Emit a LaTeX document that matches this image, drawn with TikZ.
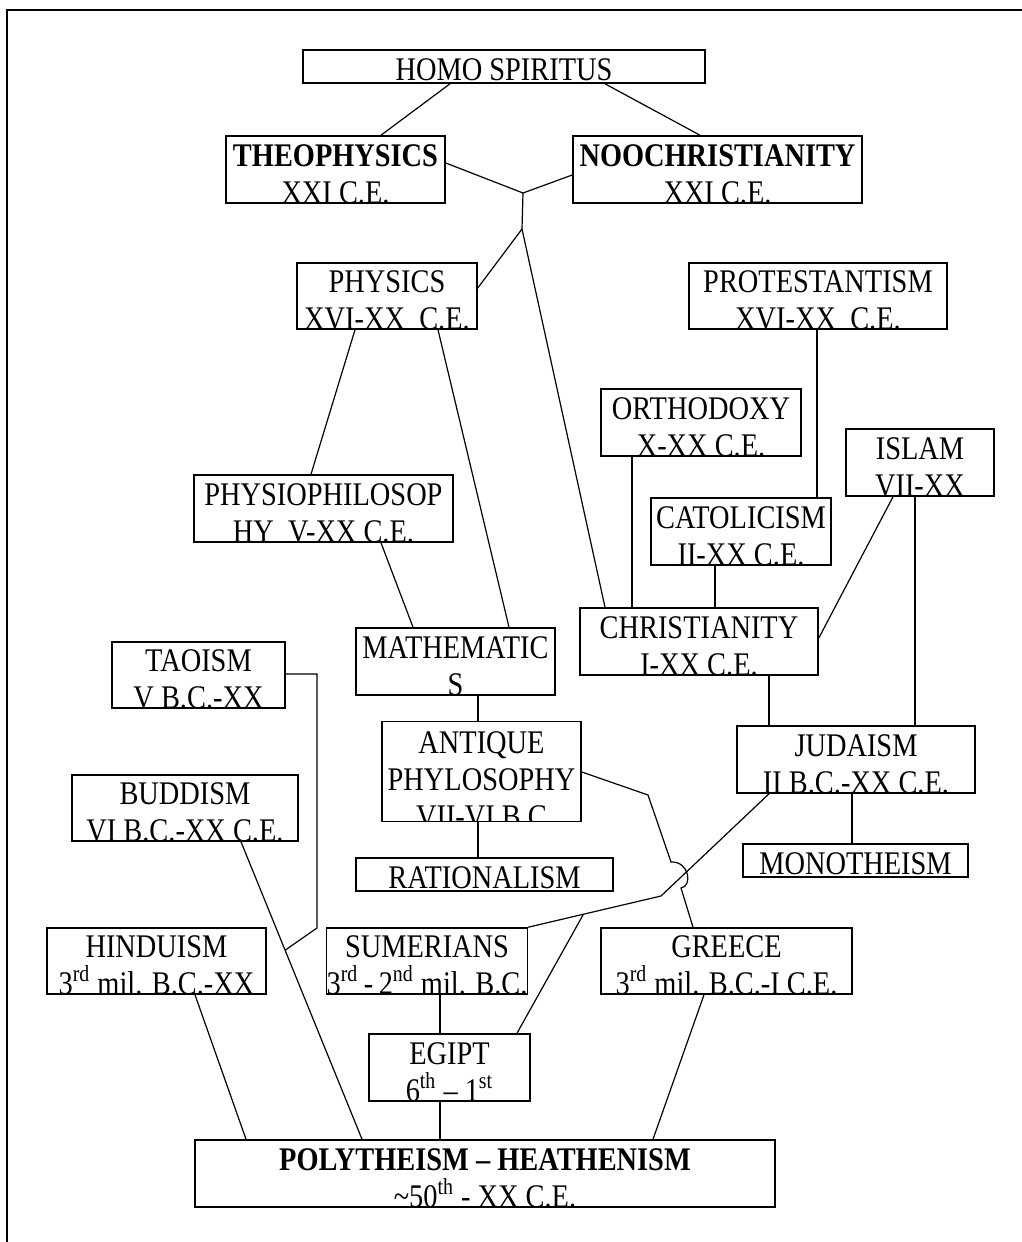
\documentclass[tikz,border=0pt]{standalone}
\usepackage{fontspec}
\setmainfont{Liberation Serif}[FakeStretch=0.86]
\usetikzlibrary{calc}

\begin{document}
\begin{tikzpicture}[
      x=0.5pt, y=-0.5pt,
      every node/.style={font=\fontsize{16.5}{18.5}\selectfont},
      block/.style={draw, line width=0.8pt, inner xsep=0pt, inner ysep=0pt, align=center, text depth=0pt},
      boxsize/.style 2 args={minimum width=#1, minimum height=#2, text height=#2},
      oneline/.style={minimum width=#1, minimum height=16.5pt, text height=15pt, text depth=1.5pt},
      link/.style={line width=0.6pt},
    ]
      \useasboundingbox (0,0) rectangle (1022,1242);
      \draw[line width=1.2pt] (7,1242) -- (7,10) -- (1022,10);

      \node[block, oneline=201pt] (homo) at (504,66.5) {HOMO SPIRITUS};
      \node[block, boxsize={109.5pt}{33.5pt}] (theo) at (335.5,169.5) {\textbf{THEOPHYSICS}\\XXI C.E.};
      \node[block, boxsize={144.5pt}{33.5pt}] (noo) at (717.5,169.5) {\textbf{NOOCHRISTIANITY}\\XXI C.E.};
      \node[block, boxsize={90pt}{33pt}] (physics) at (387,296) {PHYSICS\\XVI-XX\ \ C.E.};
      \node[block, boxsize={129pt}{33pt}] (protest) at (818,296) {PROTESTANTISM\\XVI-XX\ \ C.E.};
      \node[block, boxsize={100pt}{33.5pt}] (ortho) at (701,422.5) {ORTHODOXY\\X-XX\ C.E.};
      \node[block, boxsize={74pt}{33.5pt}] (islam) at (920,462.5) {ISLAM\\VII-XX};
      \node[block, boxsize={129.5pt}{33.5pt}] (physio) at (323.5,508.5) {PHYSIOPHILOSOP\\HY\ \ V-XX C.E.};
      \node[block, boxsize={90pt}{33.5pt}] (catol) at (741,531.5) {CATOLICISM\\II-XX\ C.E.};
      \node[block, boxsize={119pt}{33.5pt}] (christ) at (699,641.5) {CHRISTIANITY\\I-XX\ C.E.};
      \node[block, boxsize={99.5pt}{33.5pt}] (math) at (455.5,661.5) {MATHEMATIC\\S};
      \node[block, boxsize={86.5pt}{33pt}] (taoism) at (198.5,675) {TAOISM\\V B.C.-XX};
      \node[block, boxsize={99.5pt}{50pt}, path picture={
          \node[align=center, inner sep=0pt, anchor=north] (antiquetext)
            at ([yshift=-2.5pt]path picture bounding box.north) {ANTIQUE\\PHYLOSOPHY\\VII-VI B.C};
        }] (antique) at (481.5,771.5) {};
      \node[block, boxsize={119pt}{33.5pt}] (judaism) at (856,759.5) {JUDAISM\\II B.C.-XX C.E.};
      \node[block, boxsize={113pt}{33pt}] (buddism) at (185,808) {BUDDISM\\VI B.C.-XX C.E.};
      \node[block, oneline=128.5pt] (rational) at (484.5,874.5) {RATIONALISM};
      \node[block, oneline=112.5pt] (mono) at (855.5,860.5) {MONOTHEISM};
      \node[block, boxsize={109.5pt}{33pt}] (hindu) at (156.5,961) {HINDUISM\\3\textsuperscript{rd} mil. B.C.-XX};
      \node[block, boxsize={97pt}{33pt}] (sumer) at (427,961) {SUMERIANS\\3\textsuperscript{rd}\,-\,2\textsuperscript{nd} mil. B.C.};
      \node[block, boxsize={125.5pt}{33pt}] (greece) at (726.5,961) {GREECE\\3\textsuperscript{rd} mil. B.C.-I C.E.};
      \node[block, boxsize={80.5pt}{33.5pt}] (egipt) at (449.5,1067.5) {EGIPT\\6\textsuperscript{th} – 1\textsuperscript{st}};
      \node[block, boxsize={290pt}{33.5pt}] (poly) at (485,1173.5) {\textbf{POLYTHEISM – HEATHENISM}\\\textasciitilde 50\textsuperscript{th} - XX C.E.};

      \coordinate (j1) at (523,193);
      \coordinate (j2) at (522,229);
      \coordinate (k1) at (661,896);
      \coordinate (g1) at (648,795);
      \coordinate (g2) at (671,862);
      \coordinate (g3) at (681,888);
      \coordinate (t1) at (317,928);

      \draw[link] (homo.south -| 450,0) -- (theo.north -| 381,0);
      \draw[link] (homo.south -| 605,0) -- (noo.north -| 700,0);
      \draw[link] (theo.east |- 0,163) -- (j1) -- (noo.west |- 0,175);
      \draw[link] (j1) -- (j2) -- (physics.east |- 0,288);
      \draw[link] (j2) -- (christ.north -| 605,0);
      \draw[link] (physics.south -| 355,0) -- (physio.north -| 311,0);
      \draw[link] (physics.south -| 438,0) -- (math.north -| 509,0);
      \draw[link] (physio.south -| 381,0) -- (math.north -| 413,0);
      \draw[link] (protest.south -| 817,0) -- (catol.north -| 817,0);
      \draw[link] (ortho.south -| 632,0) -- (christ.north -| 632,0);
      \draw[link] (catol.south -| 715,0) -- (christ.north -| 715,0);
      \draw[link] (islam.south -| 893,0) -- (christ.east |- 0,638);
      \draw[link] (islam.south -| 915,0) -- (judaism.north -| 915,0);
      \draw[link] (christ.south -| 769,0) -- (judaism.north -| 769,0);
      \draw[link] (math.south -| 478,0) -- (antique.north -| 478,0);
      \draw[link] (antique.south -| 478,0) -- (rational.north -| 478,0);
      \draw[link] (judaism.south -| 852,0) -- (mono.north -| 852,0);
      \draw[link] (judaism.south -| 769,0) -- (k1) -- (sumer.north east);
      \draw[link] (egipt.north -| 517,0) -- ($(k1)!0.584!(sumer.north east)$);
      \draw[link] (antique.east |- 0,772) -- (g1) -- (g2)
        .. controls (689,861) and (693,886) .. (g3) -- (greece.north -| 693,0);
      \draw[link] (buddism.south -| 241,0) -- (poly.north -| 362,0);
      \draw[link] (taoism.east |- 0,674) -| (t1)
        -- ($(buddism.south -| 241,0)!0.3645!(poly.north -| 362,0)$);
      \draw[link] (hindu.south -| 195,0) -- (poly.north -| 246,0);
      \draw[link] (sumer.south -| 440,0) -- (egipt.north -| 440,0);
      \draw[link] (egipt.south -| 440,0) -- (poly.north -| 440,0);
      \draw[link] (greece.south -| 704,0) -- (poly.north -| 653,0);
    \end{tikzpicture}
\end{document}
